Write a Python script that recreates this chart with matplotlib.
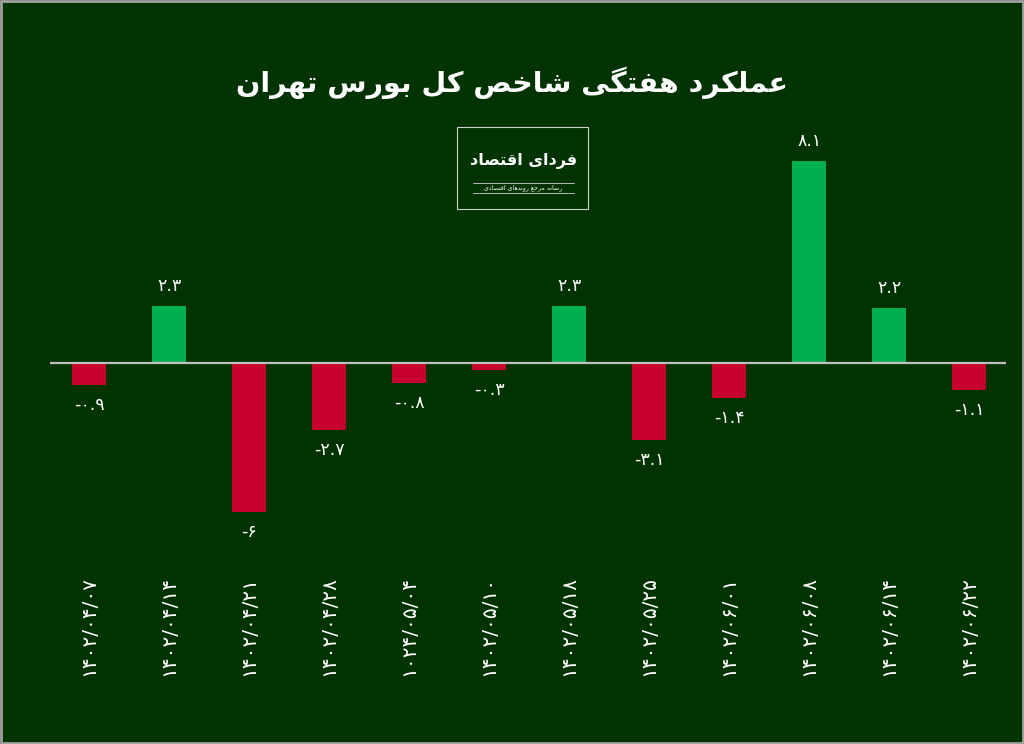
import matplotlib.pyplot as plt
from matplotlib.patches import Rectangle
from matplotlib.lines import Line2D

# data
dates = ['۱۴۰۲/۰۴/۰۷', '۱۴۰۲/۰۴/۱۴', '۱۴۰۲/۰۴/۲۱', '۱۴۰۲/۰۴/۲۸', '۱۰۲۴/۰۵/۰۴', '۱۴۰۲/۰۵/۱۰',
         '۱۴۰۲/۰۵/۱۸', '۱۴۰۲/۰۵/۲۵', '۱۴۰۲/۰۶/۰۱', '۱۴۰۲/۰۶/۰۸', '۱۴۰۲/۰۶/۱۴', '۱۴۰۲/۰۶/۲۲']
values = [-0.9, 2.3, -6, -2.7, -0.8, -0.3, 2.3, -3.1, -1.4, 8.1, 2.2, -1.1]

title = 'عملکرد هفتگی شاخص کل بورس تهران'
logo_name = 'فردای اقتصاد'
logo_sub = 'رسانه مرجع روندهای اقتصادی'

BG = '#013301'
GREEN = '#00b050'
RED = '#c8002e'

# minimal persian shaping: (isolated, final, initial, medial)
FORMS = {
    'ا': (0xFE8D, 0xFE8E, None, None),
    'ب': (0xFE8F, 0xFE90, 0xFE91, 0xFE92),
    'ت': (0xFE95, 0xFE96, 0xFE97, 0xFE98),
    'ج': (0xFE9D, 0xFE9E, 0xFE9F, 0xFEA0),
    'خ': (0xFEA5, 0xFEA6, 0xFEA7, 0xFEA8),
    'د': (0xFEA9, 0xFEAA, None, None),
    'ر': (0xFEAD, 0xFEAE, None, None),
    'س': (0xFEB1, 0xFEB2, 0xFEB3, 0xFEB4),
    'ش': (0xFEB5, 0xFEB6, 0xFEB7, 0xFEB8),
    'ص': (0xFEB9, 0xFEBA, 0xFEBB, 0xFEBC),
    'ع': (0xFEC9, 0xFECA, 0xFECB, 0xFECC),
    'ف': (0xFED1, 0xFED2, 0xFED3, 0xFED4),
    'ق': (0xFED5, 0xFED6, 0xFED7, 0xFED8),
    'ک': (0xFB8E, 0xFB8F, 0xFB90, 0xFB91),
    'گ': (0xFB92, 0xFB93, 0xFB94, 0xFB95),
    'ل': (0xFEDD, 0xFEDE, 0xFEDF, 0xFEE0),
    'م': (0xFEE1, 0xFEE2, 0xFEE3, 0xFEE4),
    'ن': (0xFEE5, 0xFEE6, 0xFEE7, 0xFEE8),
    'ه': (0xFEE9, 0xFEEA, 0xFEEB, 0xFEEC),
    'و': (0xFEED, 0xFEEE, None, None),
    'ی': (0xFBFC, 0xFBFD, 0xFBFE, 0xFBFF),
}


def fa(text):
    out = []
    for i, ch in enumerate(text):
        if ch not in FORMS:
            out.append(ch)
            continue
        prev = text[i - 1] if i > 0 else ' '
        nxt = text[i + 1] if i < len(text) - 1 else ' '
        join_prev = prev in FORMS and FORMS[prev][2] is not None
        join_next = FORMS[ch][2] is not None and nxt in FORMS
        iso, fin, ini, med = FORMS[ch]
        if join_prev and join_next:
            out.append(chr(med))
        elif join_prev:
            out.append(chr(fin))
        elif join_next:
            out.append(chr(ini))
        else:
            out.append(chr(iso))
    return ''.join(out)[::-1]


def fa_num(v):
    s = ('%g' % v)
    return s.translate(str.maketrans('0123456789', '۰۱۲۳۴۵۶۷۸۹'))


plt.rcParams['font.family'] = ['DejaVu Sans']

fig = plt.figure(figsize=(10.24, 7.44), dpi=100, facecolor=BG)
ax = fig.add_axes([0.0488, 0.2876, 0.9336, 0.5108])
ax.set_facecolor(BG)

x = list(range(len(values)))
colors = [GREEN if v > 0 else RED for v in values]
ax.bar(x, values, width=0.43, color=colors, zorder=2)
ax.axhline(0, color='#c0c0c0', lw=1.6, zorder=3)

for xi, v in zip(x, values):
    if v > 0:
        ax.annotate(fa_num(v), (xi, v), xytext=(0, 11), textcoords='offset pixels',
                    ha='center', va='bottom', color='white', fontsize=12.5)
    else:
        ax.annotate(fa_num(v), (xi, v), xytext=(0, -11), textcoords='offset pixels',
                    ha='center', va='top', color='white', fontsize=12.5)

ax.set_xlim(-0.49, 11.46)
ax.set_ylim(-6.71, 8.55)
ax.set_xticks(x)
ax.set_xticklabels(dates, rotation=90, color='white', fontsize=14.5)
ax.tick_params(axis='x', length=0, pad=33)
ax.set_yticks([])
for s in ax.spines.values():
    s.set_visible(False)

fig.text(0.5, 0.889, fa(title), ha='center', va='center', color='white',
         fontsize=20.5, fontweight='bold')

# logo box
fig.add_artist(Rectangle((0.4463, 0.7191), 0.1279, 0.1102, transform=fig.transFigure,
                         fill=False, ec='#d0d0d0', lw=0.8))
fig.text(0.511, 0.783, fa(logo_name), ha='center', va='center', color='white',
         fontsize=11.5, fontweight='bold')
for yy in (0.754, 0.741):
    fig.add_artist(Line2D([0.462, 0.5605], [yy, yy], transform=fig.transFigure,
                          color='#d0d0d0', lw=0.6))
fig.text(0.511, 0.7475, fa(logo_sub), ha='center', va='center', color='white', fontsize=4.5)

# outer border
fig.add_artist(Rectangle((0.001, 0.001), 0.998, 0.998, transform=fig.transFigure,
                         fill=False, ec='#a0a0a0', lw=2))

fig.savefig('out.png', dpi=100, facecolor=BG)
